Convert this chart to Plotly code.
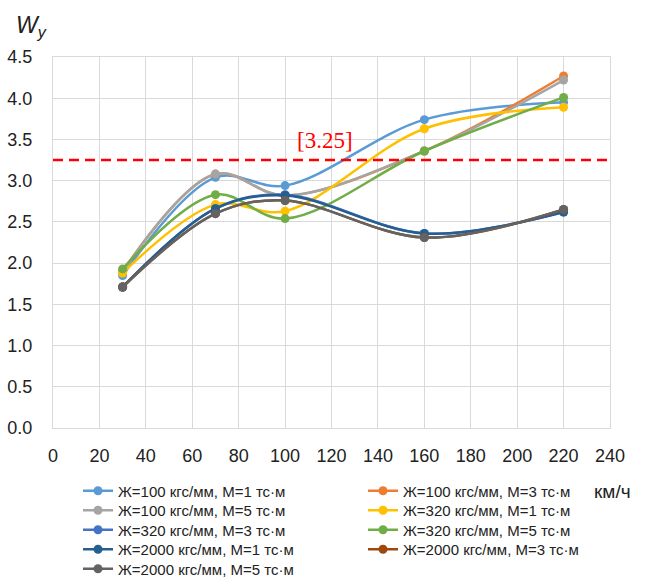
import plotly.graph_objects as go

speeds = [30, 70, 100, 160, 220]

names = [
    "Ж=100 кгс/мм, М=1 тс·м",
    "Ж=100 кгс/мм, М=3 тс·м",
    "Ж=100 кгс/мм, М=5 тс·м",
    "Ж=320 кгс/мм, М=1 тс·м",
    "Ж=320 кгс/мм, М=3 тс·м",
    "Ж=320 кгс/мм, М=5 тс·м",
    "Ж=2000 кгс/мм, М=1 тс·м",
    "Ж=2000 кгс/мм, М=3 тс·м",
    "Ж=2000 кгс/мм, М=5 тс·м",
]

w_100_m1 = [1.85, 3.04, 2.94, 3.74, 3.95]
w_100_m3 = [1.90, 3.08, 2.82, 3.36, 4.27]
w_100_m5 = [1.90, 3.08, 2.82, 3.36, 4.22]
w_320_m1 = [1.88, 2.71, 2.63, 3.63, 3.89]
w_320_m3 = [1.71, 2.66, 2.83, 2.36, 2.62]
w_320_m5 = [1.93, 2.83, 2.54, 3.36, 4.01]
w_2000_m1 = [1.71, 2.66, 2.82, 2.36, 2.62]
w_2000_m3 = [1.71, 2.60, 2.76, 2.31, 2.65]
w_2000_m5 = [1.71, 2.60, 2.76, 2.31, 2.65]

series = [w_100_m1, w_100_m3, w_100_m5, w_320_m1, w_320_m3,
          w_320_m5, w_2000_m1, w_2000_m3, w_2000_m5]

colors = ["#5B9BD5", "#ED7D31", "#A5A5A5", "#FFC000", "#4472C4",
          "#70AD47", "#255E91", "#9E480E", "#636363"]

limit = 3.25
limit_label = "[3.25]"

# plot area in pixels
L, R, T, B = 53, 610, 57, 428
W, H = 645, 586


def px_x(p):
    return (p - L) / (R - L)


def px_y(p):
    return (B - p) / (B - T)


legend_ids = ["legend", "legend2", "legend3", "legend4", "legend5"]

fig = go.Figure()
for i, (name, vals, col) in enumerate(zip(names, series, colors)):
    fig.add_trace(go.Scatter(
        x=speeds, y=vals, name=name, mode="lines+markers",
        line=dict(color=col, width=2.5, shape="spline", smoothing=1.0),
        marker=dict(color=col, size=9),
        legend=legend_ids[i // 2],
    ))

fig.add_shape(type="line", xref="x", yref="y", x0=0, x1=240, y0=limit, y1=limit,
              line=dict(color="#FF0000", width=2.5, dash="10px,6px"), layer="above")

fig.add_annotation(x=117, y=3.49, xref="x", yref="y", text=limit_label, showarrow=False,
                   xanchor="center", yanchor="middle",
                   font=dict(family="Liberation Serif", size=23, color="#FF0000"))

fig.add_annotation(x=px_x(14), y=px_y(27), xref="paper", yref="paper",
                   text="<i>W<sub>y</sub></i>", xanchor="left", yanchor="middle",
                   showarrow=False,
                   font=dict(family="Liberation Sans", size=23, color="#222222"))

fig.add_annotation(x=px_x(612), y=px_y(491), xref="paper", yref="paper",
                   text="км/ч", showarrow=False, xanchor="center", yanchor="middle",
                   font=dict(family="Liberation Sans", size=19, color="#222222"))

row_centers = [489.5, 509, 528.5, 548, 567.5]
legends = {}
for lid, rc in zip(legend_ids, row_centers):
    legends[lid] = dict(
        orientation="h", xanchor="left", yanchor="top",
        xref="paper", yref="paper",
        x=px_x(52), y=px_y(rc - 15),
        indentation=26, entrywidth=214, entrywidthmode="pixels",
        itemwidth=30, bgcolor="rgba(0,0,0,0)", tracegroupgap=0,
        font=dict(family="Liberation Sans", size=15, color="#222222"),
    )

fig.update_layout(
    width=W, height=H,
    margin=dict(l=L, r=W - R, t=T, b=H - B, autoexpand=False),
    paper_bgcolor="white", plot_bgcolor="white",
    font=dict(family="Liberation Sans", color="#222222"),
    showlegend=True,
    **legends,
)

fig.update_xaxes(range=[0, 240], dtick=20, tick0=0, showgrid=True, gridcolor="#D9D9D9",
                 gridwidth=1, zeroline=False, showline=True, linecolor="#D9D9D9",
                 mirror=True, ticks="", ticklabelstandoff=11,
                 tickfont=dict(family="Liberation Sans", size=18, color="#222222"))
fig.update_yaxes(range=[0, 4.5], dtick=0.5, tick0=0, tickformat=".1f", showgrid=True,
                 gridcolor="#D9D9D9", gridwidth=1, zeroline=False, showline=True,
                 linecolor="#D9D9D9", mirror=True, ticks="", ticklabelstandoff=16,
                 tickfont=dict(family="Liberation Sans", size=18, color="#222222"))

fig.write_html("out.html")
